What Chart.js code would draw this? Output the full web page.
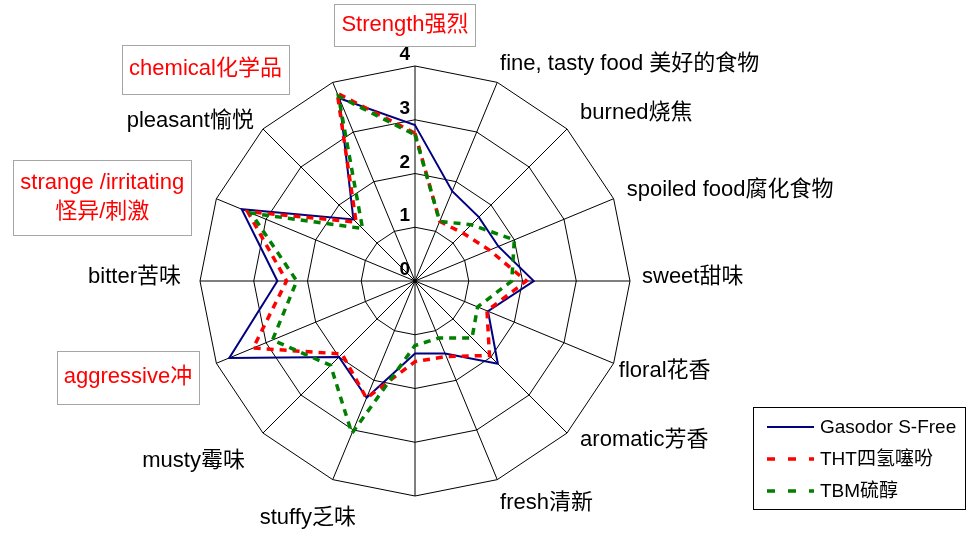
<!DOCTYPE html>
<html>
<head>
<meta charset="utf-8">
<script src="https://cdn.jsdelivr.net/npm/chart.js"></script>
<style>
  html, body { margin: 0; padding: 0; background: #ffffff; }
  #wrap { width: 976px; height: 533px; position: relative; }
</style>
</head>
<body>
<div id="wrap"><canvas id="c" width="976" height="533"></canvas></div>
<script>
// ---- data ----
const categories = [
  'Strength强烈', 'fine, tasty food 美好的食物', 'burned烧焦', 'spoiled food腐化食物',
  'sweet甜味', 'floral花香', 'aromatic芳香', 'fresh清新', '',
  'stuffy乏味', 'musty霉味', 'aggressive冲', 'bitter苦味',
  ['strange /irritating', '怪异/刺激'], 'pleasant愉悦', 'chemical化学品'
];
const seriesNames = ['Gasodor S-Free', 'THT四氢噻吩', 'TBM硫醇'];
const gasodor = [2.9, 1.81, 1.68, 1.68, 2.21, 1.47, 2.18, 1.46, 1.35, 2.35, 2.0, 3.74, 2.56, 3.49, 1.62, 3.68];
const tht     = [2.75, 1.2, 1.26, 1.5, 2.07, 1.45, 1.96, 1.52, 1.5, 2.36, 1.92, 3.26, 2.39, 3.37, 1.55, 3.78];
const tbm     = [2.72, 1.2, 1.48, 2.0, 1.8, 1.26, 1.5, 1.15, 1.2, 3.07, 2.22, 2.87, 2.2, 3.3, 1.38, 3.72];
const tickValues = [0, 1, 2, 3, 4];
const tickLabels = ['0', '1', '2', '3', '4'];

// ---- layout / styling (not data) ----
const highlighted = [0, 11, 13, 15];            // red, boxed labels
const labelNudge = [
  [-10, -20], [-1, 2], [6, 2], [4, 6], [2, -4], [-4, -7], [6, -11], [-1, 3], [0, 0],
  [27, 18], [-11, 10], [-15, -1], [-9, -4], [-23, 28], [-2, 10], [-47, 7]
];
const boxHeights = [42, 0, 0, 0, 0, 0, 0, 0, 0, 0, 0, 53, 0, 75, 0, 49];
const LABEL_FONT = '22px "Liberation Sans", Arial, "Noto Sans CJK SC", sans-serif';
const TICK_FONT = 'bold 19px "Liberation Sans", Arial, sans-serif';
const LEGEND_FONT = '19px "Liberation Sans", Arial, "Noto Sans CJK SC", sans-serif';

const decorPlugin = {
  id: 'decor',
  afterDraw(chart) {
    const ctx = chart.ctx;
    const scale = chart.scales.r;
    const n = categories.length;
    ctx.save();

    // tick labels
    ctx.font = TICK_FONT;
    ctx.fillStyle = '#000';
    ctx.textAlign = 'right';
    ctx.textBaseline = 'middle';
    tickValues.forEach((v, k) => {
      const y = scale.yCenter - scale.getDistanceFromCenterForValue(v);
      ctx.fillText(tickLabels[k], scale.xCenter - 5, y - 11);
    });

    // category labels
    ctx.font = LABEL_FONT;
    const LH = 29;
    categories.forEach((lab, i) => {
      const lines = Array.isArray(lab) ? lab : [lab];
      if (!lines.join('')) return;
      const deg = (i * 360 / n) % 360;
      const p = scale.getPointPosition(i, scale.drawingArea + 10);
      const w = Math.max(...lines.map(l => ctx.measureText(l).width));
      const h = (lines.length - 1) * LH + 22;
      let left;
      if (deg === 0 || deg === 180) left = p.x - w / 2;
      else if (deg < 180) left = p.x;
      else left = p.x - w;
      let cy;
      if (deg === 90 || deg === 270) cy = p.y;
      else if (deg > 90 && deg < 270) cy = p.y + h / 2;
      else cy = p.y - h / 2;
      left += labelNudge[i][0];
      cy += labelNudge[i][1];
      const isRed = highlighted.includes(i);
      if (boxHeights[i] > 0) {
        ctx.strokeStyle = '#a6a6a6';
        ctx.lineWidth = 1;
        ctx.setLineDash([]);
        ctx.strokeRect(Math.round(left - 7) + 0.5, Math.round(cy - boxHeights[i] / 2) + 0.5,
                       Math.round(w + 14), boxHeights[i]);
      }
      ctx.fillStyle = isRed ? '#ff0000' : '#000000';
      ctx.textAlign = 'center';
      ctx.textBaseline = 'middle';
      lines.forEach((l, k) => {
        ctx.fillText(l, left + w / 2, cy - h / 2 + 11 + k * LH);
      });
    });

    // legend
    const lx = 753, ly = 407, lw = 212, lh = 102;
    ctx.setLineDash([]);
    ctx.strokeStyle = '#000';
    ctx.lineWidth = 1;
    ctx.strokeRect(lx + 0.5, ly + 0.5, lw, lh);
    ctx.font = LEGEND_FONT;
    ctx.textAlign = 'left';
    ctx.textBaseline = 'middle';
    chart.data.datasets.forEach((ds, k) => {
      const y = ly + 20 + k * 32;
      ctx.beginPath();
      ctx.strokeStyle = ds.borderColor;
      ctx.lineWidth = ds.borderWidth;
      ctx.setLineDash(ds.borderDash && ds.borderDash.length ? [8, 13] : []);
      ctx.moveTo(767, y);
      ctx.lineTo(814, y);
      ctx.stroke();
      ctx.setLineDash([]);
      ctx.fillStyle = '#000';
      ctx.fillText(ds.label, 820, y + 1);
    });
    ctx.restore();
  }
};

new Chart(document.getElementById('c'), {
  type: 'radar',
  data: {
    labels: categories,
    datasets: [
      { label: seriesNames[0], data: gasodor, borderColor: '#000080', borderWidth: 2,
        borderDash: [], fill: false, pointRadius: 0, pointHoverRadius: 0, tension: 0, order: 2 },
      { label: seriesNames[1], data: tht, borderColor: '#ff0000', borderWidth: 3.5,
        borderDash: [7, 6], fill: false, pointRadius: 0, pointHoverRadius: 0, tension: 0, order: 1 },
      { label: seriesNames[2], data: tbm, borderColor: '#008000', borderWidth: 3.5,
        borderDash: [7, 6], fill: false, pointRadius: 0, pointHoverRadius: 0, tension: 0, order: 0 }
    ]
  },
  options: {
    responsive: false,
    animation: false,
    devicePixelRatio: 1,
    layout: { padding: { left: 200, right: 346, top: 66, bottom: 37 } },
    plugins: { legend: { display: false }, tooltip: { enabled: false } },
    scales: {
      r: {
        min: 0, max: 4,
        startAngle: 0,
        ticks: { display: false, stepSize: 1 },
        grid: { color: '#000000', lineWidth: 1 },
        angleLines: { color: '#000000', lineWidth: 1 },
        pointLabels: { display: false }
      }
    }
  },
  plugins: [decorPlugin]
});
</script>
</body>
</html>
